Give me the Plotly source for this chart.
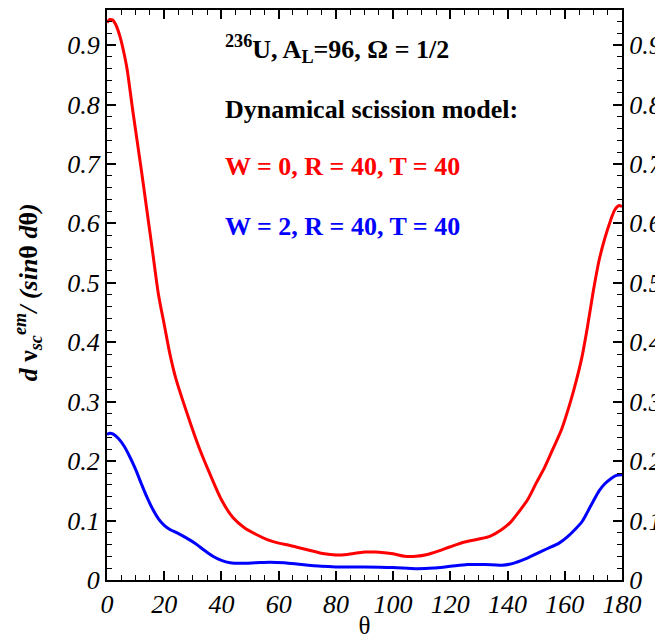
import plotly.graph_objects as go

# Red curve: W = 0, R = 40, T = 40
theta_red = [0, 1, 2, 3, 4.5, 6, 7, 9, 12, 14, 16, 18, 20, 22, 24, 28, 32, 36, 40, 44, 48, 52, 56,
             60, 64, 70, 76, 80, 84, 90, 94, 100, 104, 108, 112, 116, 120, 125, 130, 134, 138, 141,
             144, 147, 150, 153, 156, 159, 162, 164, 166, 168, 170, 172, 174, 176, 177.5, 179, 180]
y_red = [0.938, 0.943, 0.942, 0.935, 0.915, 0.885, 0.86, 0.79, 0.69, 0.62, 0.55, 0.48, 0.43, 0.38,
         0.34, 0.28, 0.225, 0.178, 0.135, 0.105, 0.088, 0.077, 0.068, 0.062, 0.058, 0.051, 0.044,
         0.042, 0.043, 0.047, 0.047, 0.044, 0.040, 0.040, 0.043, 0.049, 0.056, 0.064, 0.069, 0.074,
         0.085, 0.097, 0.115, 0.135, 0.163, 0.19, 0.222, 0.255, 0.30, 0.335, 0.375, 0.428, 0.487,
         0.538, 0.575, 0.605, 0.623, 0.630, 0.628]

# Blue curve: W = 2, R = 40, T = 40
theta_blue = [0, 1, 2, 4, 6, 8, 10, 12, 14, 16, 18, 20, 22, 25, 28, 31, 34, 37, 40, 43, 47, 52, 57,
              62, 68, 75, 80, 90, 100, 108, 114, 120, 126, 132, 138, 142, 146, 150, 154, 158, 161,
              164, 166, 168, 170, 172, 174, 176, 178, 180]
y_blue = [0.245, 0.247, 0.246, 0.238, 0.225, 0.207, 0.186, 0.162, 0.139, 0.119, 0.103, 0.092, 0.085,
          0.078, 0.070, 0.061, 0.050, 0.040, 0.033, 0.029, 0.028, 0.029, 0.030, 0.029, 0.026, 0.023,
          0.022, 0.022, 0.021, 0.019, 0.020, 0.023, 0.026, 0.026, 0.025, 0.028, 0.035, 0.044, 0.053,
          0.062, 0.073, 0.087, 0.098, 0.115, 0.133, 0.150, 0.162, 0.170, 0.176, 0.177]

x_ticks = [0, 20, 40, 60, 80, 100, 120, 140, 160, 180]
y_ticks = [0, 0.1, 0.2, 0.3, 0.4, 0.5, 0.6, 0.7, 0.8, 0.9]
y_tick_labels = ["0", "0.1", "0.2", "0.3", "0.4", "0.5", "0.6", "0.7", "0.8", "0.9"]
y_range = [0, 0.959]

tickfont = dict(family="Liberation Serif", size=26, color="black", style="italic")

fig = go.Figure()
fig.add_trace(go.Scatter(x=theta_red, y=y_red, mode="lines",
                         line=dict(color="#ff0000", width=3, shape="spline", smoothing=0.8),
                         showlegend=False, hoverinfo="skip"))
fig.add_trace(go.Scatter(x=theta_blue, y=y_blue, mode="lines",
                         line=dict(color="#0000ff", width=3, shape="spline", smoothing=0.8),
                         showlegend=False, hoverinfo="skip"))
fig.add_trace(go.Scatter(x=[None], y=[None], yaxis="y2", showlegend=False, hoverinfo="skip"))

axis_common = dict(showgrid=False, zeroline=False, showline=True, linecolor="black", linewidth=2,
                   ticks="inside", ticklen=9, tickwidth=1.5, tickcolor="black", tickfont=tickfont,
                   automargin=False)

fig.update_layout(
    width=655, height=631,
    margin=dict(l=99, r=41, t=2, b=59),
    paper_bgcolor="white", plot_bgcolor="white",
    xaxis=dict(range=[0, 180], tickvals=x_ticks, ticktext=[str(v) for v in x_ticks],
               mirror="ticks",
               minor=dict(dtick=5, ticks="inside", ticklen=5, tickwidth=1, tickcolor="black", showgrid=False),
               title=dict(text="θ", font=dict(family="Liberation Serif", size=25, color="black"), standoff=4),
               **axis_common),
    yaxis=dict(range=y_range, tickvals=y_ticks, ticktext=y_tick_labels,
               minor=dict(dtick=0.02, ticks="inside", ticklen=5, tickwidth=1, tickcolor="black", showgrid=False),
               **axis_common),
    yaxis2=dict(range=y_range, tickvals=y_ticks, ticktext=y_tick_labels, overlaying="y", side="right",
                anchor="x",
                minor=dict(dtick=0.02, ticks="inside", ticklen=5, tickwidth=1, tickcolor="black", showgrid=False),
                **axis_common),
)

# y-axis title as rotated annotation
fig.add_annotation(x=-0.153, y=0.505, xref="paper", yref="paper", xanchor="center", yanchor="middle",
                   textangle=-90, showarrow=False,
                   text="<b><i>d</i> ν<sub><i>sc</i></sub><sup><i>em</i></sup><i>/ (sin</i>θ <i>d</i>θ<i>)</i></b>",
                   font=dict(family="Liberation Serif", size=26, color="black"))

ann_font = dict(family="Liberation Serif", size=26, weight="bold")
fig.add_annotation(x=0.225, y=0.932, xref="paper", yref="paper", xanchor="left", yanchor="middle",
                   text="<sup>236</sup>U, A<sub>L</sub>=96, Ω = 1/2", showarrow=False,
                   font=dict(color="black", **ann_font))
fig.add_annotation(x=0.225, y=0.825, xref="paper", yref="paper", xanchor="left", yanchor="middle",
                   text="Dynamical scission model:", showarrow=False,
                   font=dict(color="black", **ann_font))
fig.add_annotation(x=0.225, y=0.725, xref="paper", yref="paper", xanchor="left", yanchor="middle",
                   text="W = 0, R = 40, T = 40", showarrow=False,
                   font=dict(color="#ff0000", **ann_font))
fig.add_annotation(x=0.225, y=0.621, xref="paper", yref="paper", xanchor="left", yanchor="middle",
                   text="W = 2, R = 40, T = 40", showarrow=False,
                   font=dict(color="#0000ff", **ann_font))

fig.write_html("out.html")
